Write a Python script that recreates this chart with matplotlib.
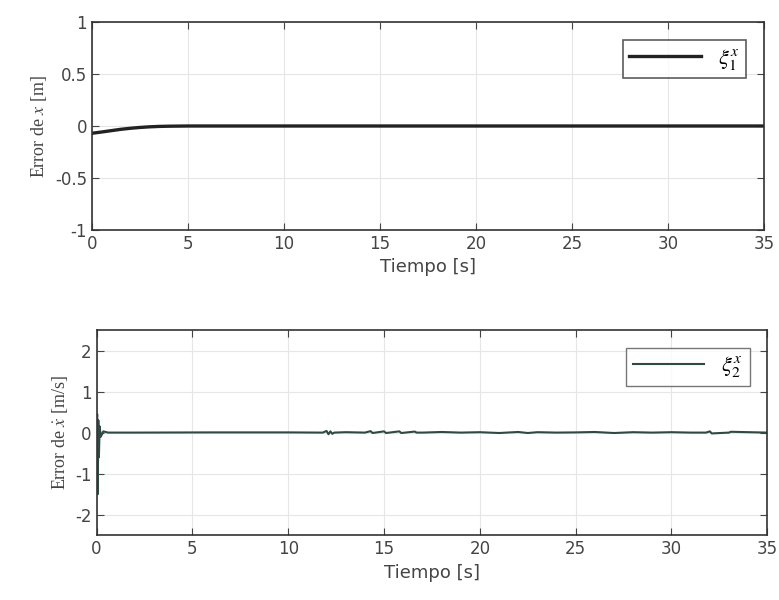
import matplotlib
matplotlib.use("Agg")
import matplotlib.pyplot as plt

# ---- data ----
t1 = [0.0, 0.5, 1.0, 1.5, 2.0, 2.5, 3.0, 3.5, 4.0, 5.0, 7.0, 10.0, 15.0, 20.0, 25.0, 30.0, 35.0]
e1 = [-0.07, -0.058, -0.045, -0.032, -0.022, -0.014, -0.008, -0.004, -0.002, 0.0, 0.0, 0.0, 0.0, 0.0, 0.0, 0.0, 0.0]

t2 = [0.0, 0.03, 0.06, 0.09, 0.12, 0.16, 0.22, 0.35, 0.6, 2.0, 6.0, 10.0, 11.8, 12.0, 12.1, 12.2, 12.3, 12.4,
      13.0, 14.0, 14.3, 14.4, 15.0, 15.1, 15.8, 15.9, 16.6, 16.7, 17.0, 18.0, 19.0, 20.0, 21.0, 22.0,
      22.5, 23.0, 24.0, 25.0, 26.0, 27.0, 28.0, 29.0, 30.0, 31.0, 31.8, 32.0, 32.1, 33.0, 33.1, 35.0]
e2 = [0.0, 0.45, -1.5, 0.3, -0.6, 0.15, -0.1, 0.03, 0.0, 0.0, 0.005, 0.005, 0.0, 0.04, -0.04, 0.03, -0.03, 0.0,
      0.01, 0.0, 0.035, -0.01, 0.03, -0.01, 0.03, -0.01, 0.025, 0.0, 0.0, 0.015, 0.0, 0.01, -0.01, 0.015,
      -0.01, 0.01, 0.0, 0.005, 0.015, -0.01, 0.01, 0.0, 0.01, 0.0, 0.0, 0.03, -0.02, 0.0, 0.02, 0.0]

xticks = [0, 5, 10, 15, 20, 25, 30, 35]
yticks1 = [-1, -0.5, 0, 0.5, 1]
ylabels1 = ['-1', '-0.5', '0', '0.5', '1']
yticks2 = [-2, -1, 0, 1, 2]

plt.rcParams['axes.unicode_minus'] = False
plt.rcParams['mathtext.fontset'] = 'stix'

fig = plt.figure(figsize=(7.79, 6.0), dpi=100)
ax1 = fig.add_axes([0.118, 0.617, 0.863, 0.346])
ax2 = fig.add_axes([0.124, 0.108, 0.861, 0.342])

serif = {'family': ['Liberation Serif', 'DejaVu Serif']}

for ax in (ax1, ax2):
    ax.set_xlim(0, 35)
    ax.set_xticks(xticks)
    ax.grid(True, color='#e6e6e6', linewidth=0.8)
    ax.tick_params(direction='in', top=True, right=True, labelsize=12, colors='#444444', length=5)
    for s in ax.spines.values():
        s.set_color('#333333')
        s.set_linewidth(1.2)
    ax.set_xlabel('Tiempo [s]', fontsize=13, color='#444444')

ax1.plot(t1, e1, color='#222222', linewidth=2.4, label=r'$\xi_1^x$')
ax1.set_ylim(-1, 1)
ax1.set_yticks(yticks1)
ax1.set_yticklabels(ylabels1)
ax1.set_ylabel(r'Error de $x$ [m]', fontsize=13, color='#444444', fontdict=serif)
ax1.legend(loc='upper right', fontsize=16, frameon=True, fancybox=False, edgecolor='#333333',
           handlelength=3.2, borderaxespad=0.8, borderpad=0.3).get_frame().set_linewidth(1.2)

ax2.plot(t2, e2, color='#2f4a44', linewidth=1.5, label=r'$\xi_2^x$')
ax2.set_ylim(-2.5, 2.5)
ax2.set_yticks(yticks2)
ax2.set_ylabel(r'Error de $\dot{x}$ [m/s]', fontsize=13, color='#444444', fontdict=serif)
ax2.legend(loc='upper right', fontsize=16, frameon=True, fancybox=False, edgecolor='#555555',
           handlelength=3.2, borderaxespad=0.8, borderpad=0.3).get_frame().set_linewidth(1.0)

fig.savefig('out.png', dpi=100)
